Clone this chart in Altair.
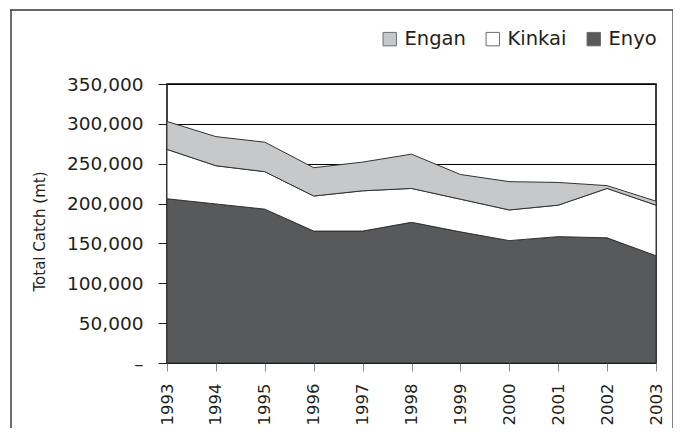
import altair as alt
import pandas as pd

years = [1993, 1994, 1995, 1996, 1997, 1998, 1999, 2000, 2001, 2002, 2003]
enyo = [206000, 199500, 193000, 165500, 165500, 176500, 164500, 153500, 158500, 157000, 134500]
kinkai = [62000, 48000, 47000, 44000, 50500, 42500, 41000, 38500, 39500, 62000, 63500]
engan = [35000, 36500, 37000, 35500, 36000, 43000, 31000, 35500, 28500, 3500, 5000]

series = ["Engan", "Kinkai", "Enyo"]
colors = ["#c7c8ca", "#ffffff", "#58595b"]
y_ticks = [0, 50000, 100000, 150000, 200000, 250000, 300000, 350000]

rows = []
for i, yr in enumerate(years):
    for name, vals, order in (("Enyo", enyo, 0), ("Kinkai", kinkai, 1), ("Engan", engan, 2)):
        rows.append({"Year": str(yr), "Species": name, "Catch": vals[i], "order": order})
df = pd.DataFrame(rows)

FONT = "DejaVu Sans"
TXT = "#231f20"

areas = alt.Chart(df).mark_area(stroke="#333333", strokeWidth=1).encode(
    x=alt.X("Year:O", scale=alt.Scale(type="point", padding=0),
            axis=alt.Axis(title=None, labelAngle=-90, labelFontSize=16.5, labelPadding=12,
                          tickSize=8, tickColor="#888888", domain=False, grid=False)),
    y=alt.Y("Catch:Q", stack="zero", scale=alt.Scale(domain=[0, 350000], nice=False),
            axis=alt.Axis(title="Total Catch (mt)", values=y_ticks,
                          labelExpr="datum.value == 0 ? '–' : format(datum.value, ',')",
                          labelFontSize=18.5, labelPadding=15, tickSize=9, tickColor=TXT,
                          domain=False, grid=True, gridColor="#000000", gridWidth=1,
                          titleFontSize=15, titleFontWeight="normal", titleX=-128, titleY=147,
                          titleBaseline="middle", titleAlign="center")),
    color=alt.Color("Species:N", scale=alt.Scale(domain=series, range=colors),
                    legend=alt.Legend(title=None, orient="none", legendX=213, legendY=-55,
                                      direction="horizontal", symbolType="square",
                                      symbolSize=180, symbolStrokeColor="#6d6e70",
                                      symbolStrokeWidth=1, labelFontSize=19.5,
                                      labelOffset=5, columnPadding=17, labelFont=FONT,
                                      labelColor=TXT)),
    order=alt.Order("order:Q"),
)

frame_src = alt.Chart(pd.DataFrame({"k": [0]}))
left_line = frame_src.mark_rule(color="#6d6e70", strokeWidth=2).encode(
    x=alt.value(-156), y=alt.value(-74), y2=alt.value(345))
top_line = frame_src.mark_rule(color="#333333", strokeWidth=1.5).encode(
    x=alt.value(-157), x2=alt.value(506), y=alt.value(-74))
right_line = frame_src.mark_rule(color="#555555", strokeWidth=1.5).encode(
    x=alt.value(506), y=alt.value(-74), y2=alt.value(345))

chart = alt.layer(areas, left_line, top_line, right_line).properties(
    width=489, height=279,
    autosize=alt.AutoSizeParams(type="none"),
    padding={"left": 159, "top": 76, "right": 17, "bottom": 65},
).configure_view(stroke="#000000", strokeWidth=1.5).configure_axis(
    labelFont=FONT, titleFont=FONT, labelColor=TXT, titleColor=TXT
)

chart.save("out.html", embed_options={"renderer": "svg", "actions": False})
